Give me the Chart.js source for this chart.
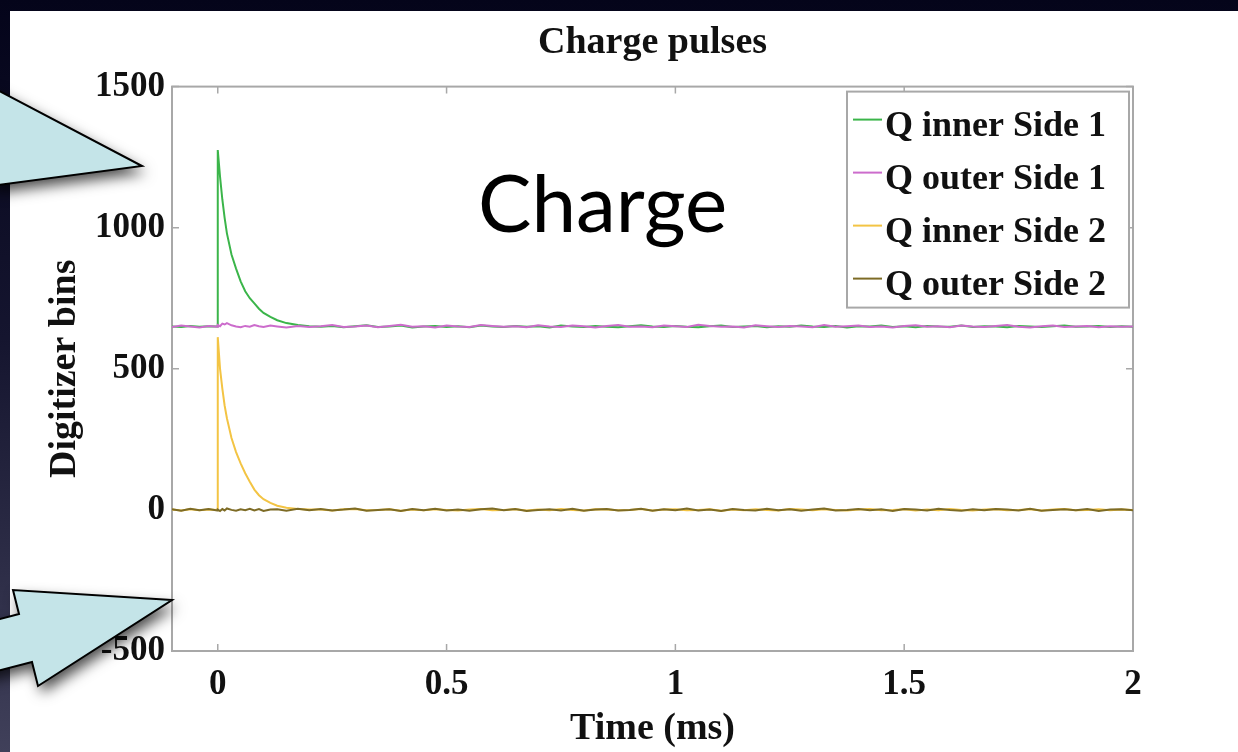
<!DOCTYPE html>
<html>
<head>
<meta charset="utf-8">
<title>Charge pulses</title>
<script src="https://cdn.jsdelivr.net/npm/chart.js@4.4.1/dist/chart.umd.min.js"></script>
<style>
  html, body { margin: 0; padding: 0; }
  body {
    width: 1238px; height: 752px; overflow: hidden; position: relative;
    background: linear-gradient(180deg, #04041a 0%, #15152f 45%, #40405a 100%);
  }
  #panel { position: absolute; left: 10px; top: 11px; right: 0; bottom: 0; background: #fff; }
  #chart { position: absolute; left: 0; top: 0; }
</style>
</head>
<body>
<div id="panel"></div>
<canvas id="chart" width="1238" height="752"></canvas>
<script>
// time axis (ms)
const timeMs = [
  -0.1, -0.08, -0.06, -0.04, -0.02, -0.001,
  0, 0.005, 0.01, 0.015, 0.02, 0.03, 0.04, 0.05, 0.06, 0.07, 0.08, 0.09, 0.1, 0.115, 0.13, 0.15, 0.175, 0.2,
  0.225, 0.25, 0.275, 0.3, 0.325, 0.35, 0.375, 0.4, 0.425, 0.45, 0.475, 0.5,
  0.525, 0.55, 0.575, 0.6, 0.625, 0.65, 0.675, 0.7, 0.725, 0.75, 0.775, 0.8,
  0.825, 0.85, 0.875, 0.9, 0.925, 0.95, 0.975, 1.0, 1.025, 1.05, 1.075, 1.1,
  1.125, 1.15, 1.175, 1.2, 1.225, 1.25, 1.275, 1.3, 1.325, 1.35, 1.375, 1.4,
  1.425, 1.45, 1.475, 1.5, 1.525, 1.55, 1.575, 1.6, 1.625, 1.65, 1.675, 1.7,
  1.725, 1.75, 1.775, 1.8, 1.825, 1.85, 1.875, 1.9, 1.925, 1.95, 1.975, 2.0
];

// digitizer bins, one value per time above
const qInner1 = [
  650, 648, 652, 649, 651, 650,
  1275, 1180, 1100, 1035, 980, 905, 855, 810, 775, 750, 732, 713, 698, 684, 672, 662, 655, 651,
  649, 652, 647, 651, 654, 648, 650, 653, 646, 650, 652, 648,
  651, 647, 653, 650, 648, 652, 649, 651, 646, 653, 650, 648,
  652, 649, 647, 651, 654, 650, 648, 652, 649, 647, 651, 653,
  648, 650, 652, 647, 651, 649, 653, 650, 648, 652, 646, 651,
  650, 653, 648, 651, 647, 652, 650, 649, 653, 648, 651, 650,
  647, 652, 650, 648, 651, 653, 649, 650, 652, 648, 651, 649
];
const qOuter1 = [
  648, 653, 650, 646, 652, 649,
  655, 651, 660, 657, 662, 654, 650, 647, 652, 649, 655, 651, 648, 653, 650, 646, 652, 648,
  651, 655, 648, 650, 653, 647, 652, 656, 649, 651, 646, 653,
  650, 648, 655, 652, 649, 651, 647, 654, 650, 648, 653, 651,
  646, 652, 655, 649, 650, 647, 653, 651, 648, 656, 652, 649,
  650, 646, 654, 651, 648, 652, 650, 647, 655, 649, 651, 653,
  648, 650, 646, 652, 654, 649, 651, 647, 653, 650, 648, 652,
  655, 649, 646, 651, 653, 648, 650, 652, 647, 651, 649, 650
];
const qInner2 = [
  1, -2, 2, -1, 1, 0,
  612, 500, 430, 370, 325, 255, 205, 165, 130, 100, 72, 52, 38, 25, 15, 8, 3, 1,
  1, -2, 2, 3, -1, 0, 2, -3, 1, -1, 2, 0,
  -2, 1, 3, -1, 0, 2, -2, 1, -1, 3, 0, -2,
  2, 1, -1, 0, 3, -2, 1, 2, -1, 0, 2, -3,
  1, -1, 2, 0, -2, 3, 1, -1, 2, 0, -2, 1,
  3, -1, 0, 2, -2, 1, -1, 3, 0, -2, 1, 2,
  -1, 0, 2, -2, 1, 3, -1, 0, 2, -1, 1, 0
];
const qOuter2 = [
  2, -3, 4, -1, 3, -2,
  1, -4, 3, -2, 5, 0, -3, 2, -1, 4, -2, 3, -4, 1, 2, -3, 4, -1,
  3, -2, 1, 5, -3, 0, 2, -4, 3, -1, 4, -2,
  1, -3, 2, 5, -1, 3, -4, 0, 2, -2, 4, -3,
  1, 3, -2, 0, 4, -3, 2, -1, 5, -2, 1, -4,
  3, 0, -2, 4, -1, 2, -3, 1, 5, -2, 0, 3,
  -1, 2, -4, 3, 1, -2, 4, 0, -3, 2, -1, 3,
  1, -2, 4, -3, 0, 2, -1, 3, -4, 1, 2, -1
];

const seriesLabels = ['Q inner Side 1', 'Q outer Side 1', 'Q inner Side 2', 'Q outer Side 2'];
const seriesColors = ['#3bb54a', '#cc6ccc', '#f3c444', '#7d6b25'];
const xTicks = [0, 0.5, 1, 1.5, 2];
const yTicks = [-500, 0, 500, 1000, 1500];

const serif = '"Liberation Serif", "Times New Roman", serif';
const frameColor = '#a8a8a8';

const toPoints = vals => vals.map((v, i) => ({ x: timeMs[i], y: v }));

// matlab style box with inward ticks
const framePlugin = {
    id: 'frame',
    beforeDatasetsDraw(chart) {
        const { ctx, chartArea: a, scales: { x, y } } = chart;
        ctx.save();
        ctx.strokeStyle = frameColor;
        ctx.lineWidth = 2;
        ctx.strokeRect(a.left, a.top, a.right - a.left, a.bottom - a.top);
        ctx.lineWidth = 1.5;
        ctx.beginPath();
        xTicks.forEach(v => {
            const px = x.getPixelForValue(v);
            ctx.moveTo(px, a.bottom); ctx.lineTo(px, a.bottom - 7);
            ctx.moveTo(px, a.top); ctx.lineTo(px, a.top + 7);
        });
        yTicks.forEach(v => {
            const py = y.getPixelForValue(v);
            ctx.moveTo(a.left, py); ctx.lineTo(a.left + 7, py);
            ctx.moveTo(a.right, py); ctx.lineTo(a.right - 7, py);
        });
        ctx.stroke();
        ctx.restore();
    }
};

// boxed legend in the top right corner of the plot
const boxLegendPlugin = {
    id: 'boxLegend',
    afterDatasetsDraw(chart) {
        const { ctx, chartArea: a } = chart;
        const w = 282, h = 216;
        const left = a.right - 4 - w, top = a.top + 5;
        ctx.save();
        ctx.fillStyle = '#fff';
        ctx.fillRect(left, top, w, h);
        ctx.strokeStyle = frameColor;
        ctx.lineWidth = 2;
        ctx.strokeRect(left, top, w, h);
        ctx.font = 'bold 36px ' + serif;
        ctx.textBaseline = 'middle';
        chart.data.datasets.forEach((ds, i) => {
            const cy = top + 35 + i * 53;
            ctx.strokeStyle = ds.borderColor;
            ctx.lineWidth = 2;
            ctx.beginPath();
            ctx.moveTo(left + 6, cy - 7);
            ctx.lineTo(left + 35, cy - 7);
            ctx.stroke();
            ctx.fillStyle = '#111';
            ctx.fillText(ds.label, left + 38, cy);
        });
        ctx.restore();
    }
};

// slide annotations: "Charge" label and the two callout arrows
function drawArrow(ctx, pts) {
    ctx.save();
    ctx.shadowColor = 'rgba(0,0,0,0.7)';
    ctx.shadowBlur = 14;
    ctx.shadowOffsetX = 4;
    ctx.shadowOffsetY = 7;
    ctx.beginPath();
    pts.forEach(([px, py], i) => i ? ctx.lineTo(px, py) : ctx.moveTo(px, py));
    ctx.closePath();
    ctx.fillStyle = '#c4e4e8';
    ctx.fill();
    ctx.shadowColor = 'transparent';
    ctx.strokeStyle = '#000';
    ctx.lineWidth = 2;
    ctx.lineJoin = 'miter';
    ctx.stroke();
    ctx.restore();
}

const slidePlugin = {
    id: 'slide',
    afterDraw(chart) {
        const ctx = chart.ctx;
        ctx.save();
        ctx.font = '80px Lato, "Open Sans", sans-serif';
        ctx.fillStyle = '#000';
        ctx.textBaseline = 'alphabetic';
        ctx.fillText('Charge', 478, 232);
        ctx.restore();
        drawArrow(ctx, [[-10, 86], [142, 166], [-10, 186]]);
        drawArrow(ctx, [[172, 600], [13, 590], [19, 614], [-81, 640], [-68, 688], [32, 662], [38, 686]]);
    }
};

new Chart(document.getElementById('chart'), {
    type: 'line',
    data: {
        datasets: [qInner1, qOuter1, qInner2, qOuter2].map((vals, i) => ({
            label: seriesLabels[i],
            data: toPoints(vals),
            borderColor: seriesColors[i],
            borderWidth: 2,
            pointRadius: 0,
            tension: 0,
            fill: false,
            order: 4 - i
        }))
    },
    options: {
        responsive: false,
        animation: false,
        layout: { padding: { left: 0, right: 105, top: 0, bottom: 0 } },
        plugins: {
            legend: { display: false },
            tooltip: { enabled: false },
            title: {
                display: true,
                fullSize: false,
                text: 'Charge pulses',
                color: '#111',
                font: { family: serif, size: 38, weight: 'bold' },
                padding: { top: 20, bottom: 21 }
            }
        },
        scales: {
            x: {
                type: 'linear',
                min: -0.1,
                max: 2,
                grid: { display: false, drawTicks: false },
                border: { display: false },
                afterBuildTicks: s => { s.ticks = xTicks.map(v => ({ value: v })); },
                afterFit: s => { s.height = 101; },
                ticks: {
                    padding: 13,
                    color: '#111',
                    font: { family: serif, size: 35, weight: 'bold' },
                    callback: v => String(v)
                },
                title: {
                    display: true,
                    text: 'Time (ms)',
                    color: '#111',
                    font: { family: serif, size: 38, weight: 'bold' },
                    padding: { top: 0, bottom: 0 }
                }
            },
            y: {
                min: -500,
                max: 1500,
                grid: { display: false, drawTicks: false },
                border: { display: false },
                afterBuildTicks: s => { s.ticks = yTicks.map(v => ({ value: v })); },
                afterFit: s => { s.width = 172; },
                ticks: {
                    padding: 7,
                    color: '#111',
                    font: { family: serif, size: 35, weight: 'bold' },
                    callback: v => String(v)
                },
                title: {
                    display: true,
                    text: 'Digitizer bins',
                    color: '#111',
                    font: { family: serif, size: 38, weight: 'bold' },
                    padding: { top: 42, bottom: 0 }
                }
            }
        }
    },
    plugins: [framePlugin, boxLegendPlugin, slidePlugin]
});
</script>
</body>
</html>
